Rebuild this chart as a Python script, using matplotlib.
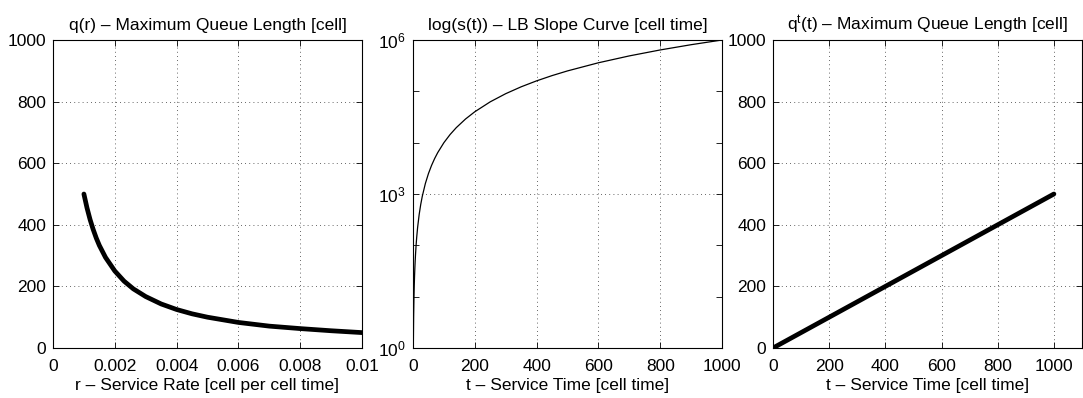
import numpy as np
import matplotlib
matplotlib.use("Agg")
import matplotlib.pyplot as plt

plt.rcParams["font.family"] = ["Liberation Sans", "DejaVu Sans"]
plt.rcParams["mathtext.fontset"] = "custom"
plt.rcParams["mathtext.rm"] = "Liberation Sans"
plt.rcParams["mathtext.it"] = "Liberation Sans"
plt.rcParams["mathtext.default"] = "regular"
FS = 12.5

# q(r): maximum queue length vs service rate
rate = [0.001, 0.0011, 0.0012, 0.0013, 0.0014, 0.0015, 0.0017, 0.002, 0.0023,
        0.0026, 0.003, 0.0035, 0.004, 0.0045, 0.005, 0.006, 0.007, 0.008,
        0.009, 0.01]
queue_r = [500, 455, 417, 385, 357, 333, 294, 250, 217, 192, 167, 143, 125,
           111, 100, 83, 71, 63, 56, 50]

# s(t): LB slope curve
t_slope = [1, 2, 3, 4, 5, 6, 7, 8, 10, 12, 15, 20, 25, 30, 40, 50, 60, 70,
           80, 100, 120, 140, 170, 200, 250, 300, 350, 400, 450, 500, 600,
           700, 800, 900, 1000]
slope = [1, 4, 9, 16, 25, 36, 49, 64, 100, 144, 225, 400, 625, 900, 1600,
         2500, 3600, 4900, 6400, 1e4, 1.44e4, 1.96e4, 2.89e4, 4e4, 6.25e4,
         9e4, 1.225e5, 1.6e5, 2.025e5, 2.5e5, 3.6e5, 4.9e5, 6.4e5, 8.1e5, 1e6]

# q^t(t): maximum queue length vs service time
t_queue = [0, 250, 500, 750, 1000]
queue_t = [0, 125, 250, 375, 500]

titles = ["q(r) – Maximum Queue Length [cell]",
          "log(s(t)) – LB Slope Curve [cell time]",
          "q$^{t}$(t) – Maximum Queue Length [cell]"]
xlabels = ["r – Service Rate [cell per cell time]",
           "t – Service Time [cell time]",
           "t – Service Time [cell time]"]

fig = plt.figure(figsize=(10.83, 3.98), dpi=100)
W, H = 1083, 398
lefts = [53, 413, 773]
rights = [362, 722, 1082]
top, bottom = 40, 348
axes = [fig.add_axes([l / W, 1 - bottom / H, (r - l) / W, (bottom - top) / H])
        for l, r in zip(lefts, rights)]

grid_kw = dict(linestyle=(0, (1, 4)), color="black", linewidth=0.6, alpha=0.8)


def style(ax):
    ax.tick_params(direction="in", top=True, right=True, length=4, width=0.6,
                   labelsize=FS)
    ax.tick_params(axis="x", pad=8)
    ax.tick_params(axis="y", pad=5)
    for s in ax.spines.values():
        s.set_linewidth(0.8)
    ax.grid(True, **grid_kw)


ax = axes[0]
ax.plot(rate, queue_r, color="black", linewidth=3.4, solid_capstyle="round")
ax.set_xlim(0, 0.01)
ax.set_ylim(0, 1000)
ax.set_xticks([0, 0.002, 0.004, 0.006, 0.008, 0.01])
ax.set_xticklabels(["0", "0.002", "0.004", "0.006", "0.008", "0.01"])
ax.set_yticks(range(0, 1001, 200))
style(ax)

ax = axes[1]
ax.semilogy(t_slope, slope, color="black", linewidth=0.9)
ax.set_xlim(0, 1000)
ax.set_ylim(1, 1e6)
ax.set_xticks(range(0, 1001, 200))
ax.set_yticks([1e0, 1e1, 1e2, 1e3, 1e4, 1e5, 1e6])
ax.set_yticklabels(["$10^0$", "", "", "$10^3$", "", "", "$10^6$"])
ax.minorticks_off()
style(ax)
ax.yaxis.grid(False)
ax.axhline(1e3, **grid_kw)

ax = axes[2]
ax.plot(t_queue, queue_t, color="black", linewidth=3.4, solid_capstyle="round")
ax.set_xlim(0, 1100)
ax.set_ylim(0, 1000)
ax.set_xticks(range(0, 1001, 200))
ax.set_yticks(range(0, 1001, 200))
style(ax)

for ax, t, xl in zip(axes, titles, xlabels):
    ax.set_title(t, fontsize=FS, pad=7)
    ax.set_xlabel(xl, fontsize=FS, labelpad=3)

fig.savefig("out.png", dpi=100)
